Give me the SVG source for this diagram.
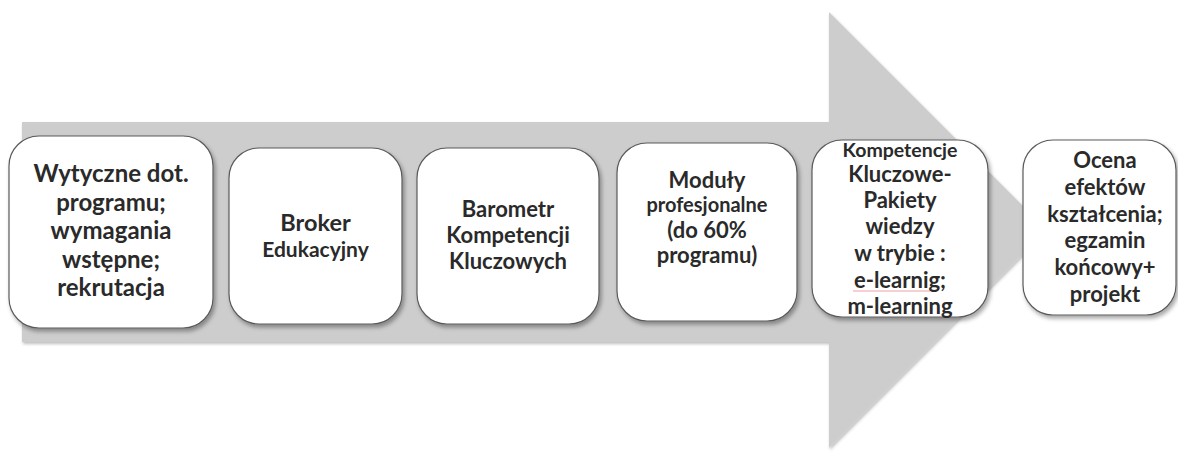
<svg xmlns="http://www.w3.org/2000/svg" width="1178" height="452" viewBox="0 0 1178 452">
<style>
.box{fill:#fff;stroke:#5a5a5a;stroke-width:1.2;filter:url(#sh)}
.t{font-family:Lato,"Open Sans","Liberation Sans",sans-serif;font-weight:bold;fill:#2a2a2a;text-anchor:middle}
.L{font-size:24px}
.M{font-size:22px}
.S{font-size:20px}
</style>
<defs>
<filter id="sh" x="-10%" y="-10%" width="125%" height="125%">
<feDropShadow dx="2" dy="3" stdDeviation="2" flood-color="#000" flood-opacity="0.35"/>
</filter>
<filter id="ash" x="-5%" y="-5%" width="110%" height="115%">
<feDropShadow dx="1" dy="2" stdDeviation="1.5" flood-color="#000" flood-opacity="0.25"/>
</filter>
</defs>
<g id="arrow">
<polygon points="22,122 829,122 829,12 1047,230 829,448 829,342 22,342" fill="#cdcdcd" filter="url(#ash)"/>
</g>
<g id="connectors"></g>
<g id="n1">
<rect class="box" x="9" y="136" width="204" height="192" rx="30"/>
<text class="t L" x="111" y="182">Wytyczne dot.</text>
<text class="t L" x="111" y="210.5">programu;</text>
<text class="t L" x="111" y="239">wymagania</text>
<text class="t L" x="111" y="267.5">wstępne;</text>
<text class="t L" x="111" y="296">rekrutacja</text>
</g>
<g id="n2">
<rect class="box" x="229" y="148" width="173" height="176" rx="30"/>
<text class="t" style="font-size:23.5px" x="315.5" y="231">Broker</text>
<text class="t" style="font-size:21px" x="315.5" y="257">Edukacyjny</text>
</g>
<g id="n3">
<rect class="box" x="417" y="148" width="182" height="176" rx="30"/>
<text class="t M" x="508" y="217">Barometr</text>
<text class="t M" x="508" y="243">Kompetencji</text>
<text class="t M" x="508" y="268.5">Kluczowych</text>
</g>
<g id="n4">
<rect class="box" x="617" y="143" width="180" height="178" rx="30"/>
<text class="t M" x="707" y="188">Moduły</text>
<text class="t S" x="707" y="212">profesjonalne</text>
<text class="t M" x="707" y="238">(do 60%</text>
<text class="t M" x="707" y="263">programu)</text>
</g>
<g id="n5">
<rect class="box" x="812" y="140" width="176" height="177" rx="30"/>
<text class="t" style="font-size:19.5px" x="900" y="157">Kompetencje</text>
<text class="t M" x="900" y="182">Kluczowe-</text>
<text class="t M" x="900" y="208">Pakiety</text>
<text class="t M" x="900" y="234">wiedzy</text>
<text class="t M" x="900" y="261">w trybie :</text>
<line x1="853" y1="291" x2="930" y2="291" stroke="#f2a0a0" stroke-width="1"/>
<text class="t M" x="900" y="288">e-learnig;</text>
<text class="t M" x="900" y="314">m-learning</text>
</g>
<g id="n6">
<rect class="box" x="1023" y="140" width="153" height="175" rx="30"/>
<text class="t M" x="1105" y="168">Ocena</text>
<text class="t M" x="1105" y="195">efektów</text>
<text class="t M" x="1105" y="222">kształcenia;</text>
<text class="t M" x="1105" y="248">egzamin</text>
<text class="t M" x="1105" y="275">końcowy+</text>
<text class="t M" x="1105" y="302">projekt</text>
</g>
</svg>
